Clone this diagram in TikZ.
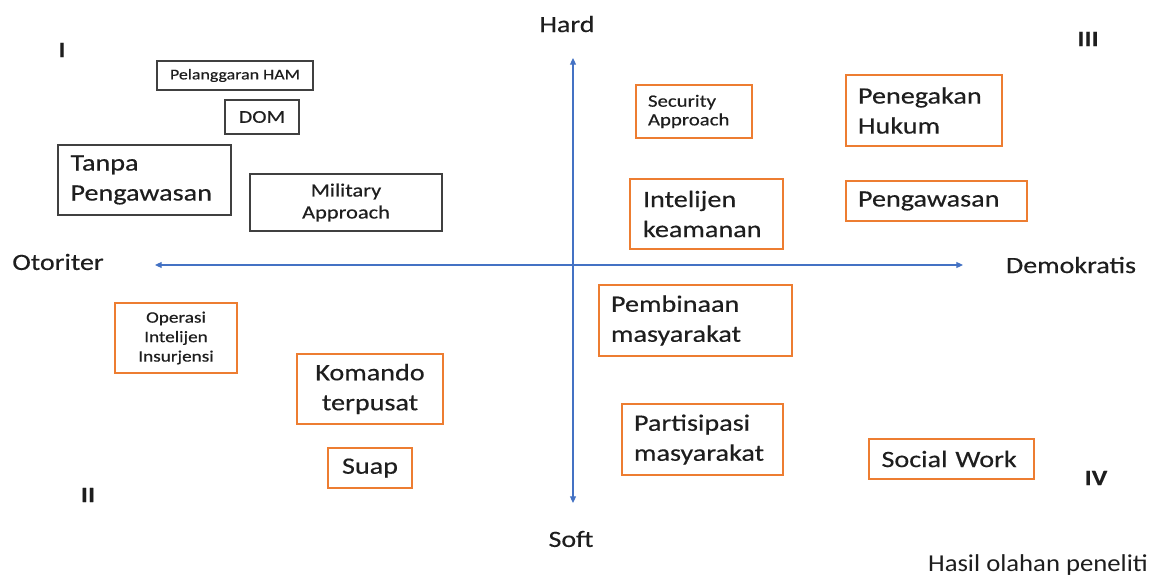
\documentclass[tikz,border=0pt]{standalone}
\usepackage{fontspec}
\setmainfont{Carlito}[FakeStretch=1.2,FakeBold=0.35]
\newfontfamily\hasilfont{Carlito}[FakeStretch=1.1]
\usetikzlibrary{arrows.meta}
\definecolor{axblue}{HTML}{4472C4}
\definecolor{org}{HTML}{ED7D31}
\definecolor{bdr}{HTML}{404040}
\definecolor{txt}{HTML}{1E1E1E}
\begin{document}
\begin{tikzpicture}[x=0.75pt,y=-0.75pt,
  every node/.style={text=txt},
  bb/.style={draw=bdr, line width=1.1pt, inner sep=0pt},
  ob/.style={draw=org, line width=1.1pt, inner sep=0pt},
  bigf/.style={font=\fontsize{17.6}{22.5}\selectfont},
  lab/.style={font=\fontsize{17.5}{20}\selectfont, inner sep=0pt},
  roman/.style={font=\fontsize{16.5}{19}\selectfont\bfseries, inner sep=0pt},
  axisline/.style={draw=axblue, line width=0.8pt, {Triangle[length=5pt,width=4.5pt]}-{Triangle[length=5pt,width=4.5pt]}}
]
\useasboundingbox (0,0) rectangle (1149,581);
\fill[white] (0,0) rectangle (1149,581);

% axes
\coordinate (vt) at (573,58);
\coordinate (vb) at (573,503);
\coordinate (hl) at (155,265);
\coordinate (hr) at (963,265);
\draw[axisline] (vt) -- (vb);
\draw[axisline] (hl) -- (hr);

% axis labels
\node[lab] (hard) at (567,24) {Hard};
\node[lab] (soft) at (571,539) {Soft};
\node[lab] (otoriter) at (58,262) {Otoriter};
\node[lab] (demokratis) at (1071,265) {Demokratis};

% quadrant numbers
\node[roman] (q1) at (62,50) {I};
\node[roman] (q2) at (88,495) {II};
\node[roman] (q3) at (1088,39) {III};
\node[roman] (q4) at (1096,478) {IV};

% quadrant I (black boxes)
\node[bb, minimum width=117pt, minimum height=21.75pt, font=\fontsize{11.2}{13}\selectfont] (ham) at (235,75.5) {Pelanggaran HAM};
\node[bb, minimum width=55.5pt, minimum height=25.5pt, font=\fontsize{13.5}{15}\selectfont] (dom) at (262,117) {DOM};
\node[bb, bigf, minimum width=129.75pt, minimum height=52.5pt, text width=111pt, align=left] (tanpa) at (144.5,180) {Tanpa\\Pengawasan};
\node[bb, minimum width=144pt, minimum height=42.75pt, align=center, font=\fontsize{14}{16.5}\selectfont] (military) at (346,202.5) {Military\\Approach};

% quadrant III
\node[ob, minimum width=87pt, minimum height=39.75pt, text width=69pt, align=left, font=\fontsize{13}{14}\selectfont] (security) at (694,111.5) {Security\\Approach};
\node[ob, bigf, minimum width=117pt, minimum height=53.25pt, text width=99pt, align=left] (penegakan) at (924,110.5) {Penegakan\\Hukum};
\node[ob, bigf, minimum width=114.75pt, minimum height=52.5pt, text width=95.25pt, align=left] (intelijen) at (706.5,214) {Intelijen\\keamanan};
\node[ob, bigf, minimum width=135.75pt, minimum height=30pt, text width=117.75pt, align=left] (pengawasan) at (936.5,201) {Pengawasan};

% quadrant IV
\node[ob, bigf, minimum width=144.75pt, minimum height=53.25pt, text width=126.75pt, align=left] (pembinaan) at (695.5,320.5) {Pembinaan\\masyarakat};
\node[ob, bigf, minimum width=120.75pt, minimum height=53.25pt, text width=102.75pt, align=left] (partisipasi) at (702.5,439.5) {Partisipasi\\masyarakat};
\node[ob, bigf, minimum width=123.75pt, minimum height=30pt, text width=105pt, align=left] (social) at (951.5,459) {Social Work};

% quadrant II
\node[ob, minimum width=91.5pt, minimum height=52.5pt, align=center, font=\fontsize{12}{14.6}\selectfont] (operasi) at (176,338) {Operasi\\Intelijen\\Insurjensi};
\node[ob, bigf, minimum width=109.5pt, minimum height=52.5pt, align=center] (komando) at (370,389) {Komando\\terpusat};
\node[ob, bigf, minimum width=63pt, minimum height=30pt, align=center] (suap) at (370,468) {Suap};

% source
\node[font=\hasilfont\fontsize{18.2}{20}\selectfont, inner sep=0pt] (hasil) at (1038,565) {Hasil olahan peneliti};
\end{tikzpicture}
\end{document}
